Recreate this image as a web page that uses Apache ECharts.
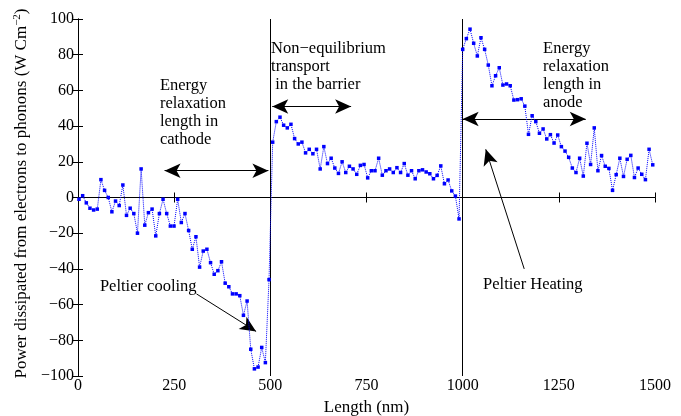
<!DOCTYPE html>
<html>
<head>
<meta charset="utf-8">
<script src="https://cdn.jsdelivr.net/npm/echarts@6/dist/echarts.min.js"></script>
<style>
html, body { margin: 0; padding: 0; background: #fff; }
#main { width: 681px; height: 416px; }
</style>
</head>
<body>
<div id="main"></div>
<script>
// sample grid (nm)
var xStart = 2.6;
var xStep = 9.5;

// power values, W cm^-2
var cathode = [-1, 1, -3, -6, -7, -6.5, 10, 4, 0, -8, -2, -4.5, 7, -10, -6, -9, -20, 16, -15.5, -8.5,
    -6.5, -21.5, -9, -1, -9, -16, -16, -1, -14, -9, -18.5, -29, -22, -39, -30, -29, -36.5, -43, -41, -36,
    -48, -50, -54, -54, -55, -66, -58, -85, -96, -95, -84, -92.5, -46];
var barrier = [31, 42.5, 45, 40.5, 39, 41, 33, 30, 31, 25, 27, 24.5, 27, 16, 28.5, 19, 22, 16.5, 13.5, 20,
    14, 17.5, 16, 13, 18, 18.5, 11, 15, 15, 22, 12.5, 15, 16, 14, 16.7, 14, 19, 12.5, 15, 10.5,
    15, 15.5, 14.3, 13.3, 10.5, 12.4, 17.7, 7.7, 9.8, 3.7, 0.8, -12];
var anode = [83, 89, 94.3, 86.4, 79.3, 89.5, 83, 74.2, 62.6, 68.2, 72.7, 63, 63.6, 62.6, 54.6, 54.8, 55.3, 51.2, 35.4, 45.8,
    42.5, 36, 38.4, 32.8, 35.2, 30.5, 35, 28.5, 26, 22.5, 16.5, 14, 22, 12, 30.4, 18.5, 39, 15, 23.5, 17.5,
    16.3, 4, 12.8, 22, 11.8, 21.4, 23.6, 11.2, 16.5, 13, 10, 27, 18.3];

var interfaces = [500, 1000];

// annotation arrows in data units: [from, to]
var doubleArrows = [
    [[225, 15], [495, 15]],
    [[505, 51], [710, 51]],
    [[1000, 44], [1320, 44]]
];
var singleArrows = [
    [[308, -54], [463, -75]],
    [[1160, -40], [1060, 27]]
];
// annotation texts: [x, y(top), text]
var notes = [
    [213, 67.5, 'Energy\nrelaxation\nlength in\ncathode'],
    [502, 88.5, 'Non\u2212equilibrium\ntransport\n in the barrier'],
    [1209, 88.5, 'Energy\nrelaxation\nlength in\nanode'],
    [57, -45, 'Peltier cooling'],
    [1053, -44, 'Peltier Heating']
];

var values = cathode.concat(barrier, anode);
var points = values.map(function (v, i) { return [xStart + xStep * i, v]; });

var serif = "'Liberation Serif', 'Times New Roman', serif";
var dom = document.getElementById('main');
var myChart = echarts.init(dom);

function arrowLines(list, symbols) {
    return list.map(function (a) {
        return [{ coord: a[0], symbol: symbols[0] }, { coord: a[1], symbol: symbols[1] }];
    });
}
function minusFmt(v) { return String(v).replace('-', '\u2212'); }

var option = {
    animation: false,
    backgroundColor: '#fff',
    grid: { left: 78, right: 26, top: 19, bottom: 40, outerBoundsMode: 'none', containLabel: false },
    xAxis: [{
        type: 'value', min: 0, max: 1500, interval: 250,
        name: 'Length (nm)', nameLocation: 'middle', nameGap: 18,
        nameTextStyle: { fontFamily: serif, fontSize: 17, color: '#000' },
        axisLine: { lineStyle: { color: '#000', width: 1 } },
        axisTick: { inside: true, length: 5, lineStyle: { color: '#000' } },
        axisLabel: { fontFamily: serif, fontSize: 16, color: '#000', margin: 2, formatter: minusFmt },
        splitLine: { show: false }
    }, {
        type: 'value', min: 0, max: 1500, interval: 250, position: 'top',
        axisLine: { lineStyle: { color: '#000', width: 1 } },
        axisTick: { inside: true, length: 5, lineStyle: { color: '#000' } },
        axisLabel: { show: false },
        splitLine: { show: false }
    }],
    yAxis: [{
        type: 'value', min: -100, max: 100, interval: 20,
        name: 'Power dissipated from electrons to phonons (W Cm{sup|\u22122})',
        nameLocation: 'middle', nameGap: 46, nameRotate: 90,
        nameTextStyle: {
            fontFamily: serif, fontSize: 17, color: '#000', padding: [0, 0, 0, 8],
            rich: { sup: { fontFamily: serif, fontSize: 11, color: '#000', verticalAlign: 'top', padding: [0, 0, 9, 0] } }
        },
        axisLine: { lineStyle: { color: '#000', width: 1 } },
        axisTick: { inside: true, length: 5, lineStyle: { color: '#000' } },
        axisLabel: { fontFamily: serif, fontSize: 16, color: '#000', margin: 4, formatter: minusFmt },
        splitLine: { show: false }
    }, {
        type: 'value', min: -100, max: 100, interval: 20, position: 'right',
        axisLine: { lineStyle: { color: '#000', width: 1 } },
        axisTick: { inside: true, length: 5, lineStyle: { color: '#000' } },
        axisLabel: { show: false },
        splitLine: { show: false }
    }],
    series: [{
        name: 'guides',
        type: 'line',
        data: [],
        silent: true,
        markLine: {
            silent: true,
            symbol: ['none', 'none'],
            label: { show: false },
            emphasis: { disabled: true },
            lineStyle: { color: '#000', width: 1, type: 'solid' },
            data: [{ yAxis: 0 }].concat(interfaces.map(function (x) { return { xAxis: x }; }))
        }
    }, {
        name: 'power',
        type: 'line',
        data: points,
        symbol: 'rect',
        symbolSize: 3.5,
        itemStyle: { color: '#0000ff' },
        lineStyle: { color: '#0000ff', width: 1, type: 'dotted' },
        z: 5
    }, {
        name: 'arrows',
        type: 'line',
        data: [],
        silent: true,
        markLine: {
            silent: true,
            symbolSize: [11, 16],
            label: { show: false },
            emphasis: { disabled: true },
            lineStyle: { color: '#000', width: 1, type: 'solid' },
            data: arrowLines(doubleArrows, ['arrow', 'arrow']).concat(arrowLines(singleArrows, ['none', 'arrow']))
        }
    }]
};

myChart.setOption(option);

var graphics = notes.map(function (n) {
    var p = myChart.convertToPixel({ xAxisIndex: 0, yAxisIndex: 0 }, [n[0], n[1]]);
    return {
        type: 'text', x: p[0], y: p[1], z: 10,
        style: {
            text: n[2], fill: '#000', fontFamily: serif, fontSize: 16.5,
            lineHeight: 18, align: 'left', verticalAlign: 'top'
        }
    };
});
myChart.setOption({ graphic: graphics });
</script>
</body>
</html>
